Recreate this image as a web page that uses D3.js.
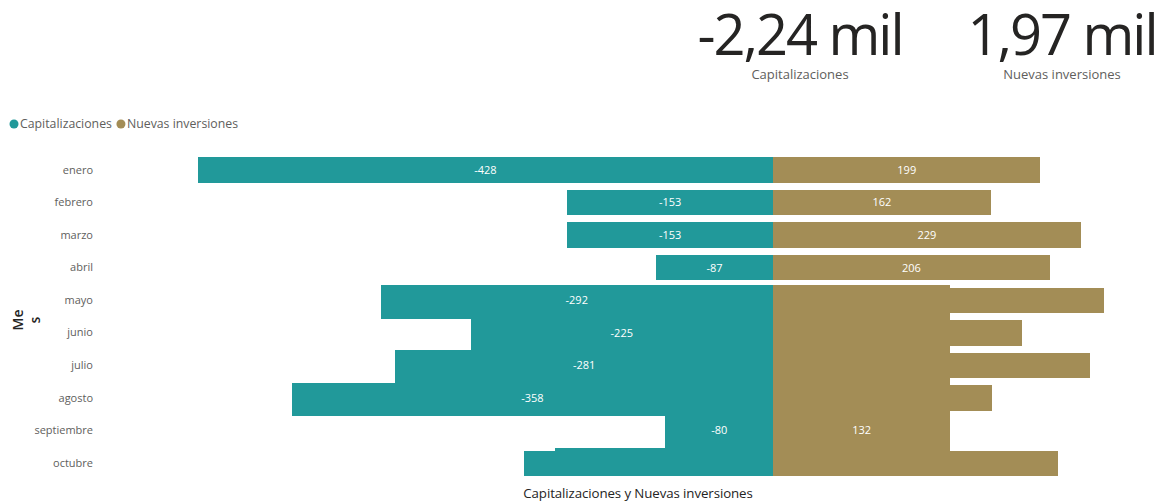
<!DOCTYPE html>
<html>
<head>
<meta charset="utf-8">
<script src="https://cdn.jsdelivr.net/npm/d3@7"></script>
<style>
  body { margin: 0; background: #fff; }
  svg text { font-family: "Open Sans", "Noto Sans", sans-serif; }
  rect { shape-rendering: crispEdges; }
</style>
</head>
<body>
<div id="chart"></div>
<script>
// datos
var meses = ["enero", "febrero", "marzo", "abril", "mayo", "junio", "julio", "agosto", "septiembre", "octubre"];
var capitalizaciones = [-428, -153, -153, -87, -292, -225, -281, -358, -80, -185];
var nuevasInversiones = [199, 162, 229, 206, 246, 185, 236, 163, 132, 212];
var series = ["Capitalizaciones", "Nuevas inversiones"];
var totales = ["-2,24 mil", "1,97 mil"];

// barras que quedaron a mitad de la animacion en la captura
var mesesEstirados = ["mayo", "junio", "julio", "agosto", "septiembre"];
var bloqueNuevas = { desde: "mayo", hasta: "octubre", valor: 132 };
var franjaCap = { desde: "septiembre", hasta: "octubre", valor: -162 };
var sinEtiqueta = ["octubre"];

var svgWidth = 1158;
var svgHeight = 504;
var colorCap = "#21999a";
var colorNue = "#a38d56";

var data = meses.map(function(m, i) {
  return { mes: m, cap: capitalizaciones[i], nue: nuevasInversiones[i] };
});

var svg = d3.select("#chart")
  .append("svg")
  .attr("width", svgWidth)
  .attr("height", svgHeight);

// scales
var maxAbs = d3.max(data, d => Math.max(-d.cap, d.nue));
var x = d3.scaleLinear()
  .domain([-maxAbs, maxAbs])
  .range([197.7, 1348.3]);

var y = d3.scaleBand()
  .domain(meses)
  .range([150.8, 482.4])
  .paddingInner(0.223)
  .paddingOuter(0.2);

var bw = y.bandwidth();
var shift = (y.step() - bw) * 0.3;

// y axis labels
var yAxis = d3.axisLeft(y).tickSize(0).tickPadding(0);
var yG = svg.append("g")
  .attr("transform", "translate(93,0)")
  .call(yAxis);
yG.select(".domain").remove();
yG.selectAll("text")
  .attr("fill", "#605e5c")
  .style("font-size", "11px");

// axis title "Mes" (wrapped)
var titleY = svg.append("text")
  .attr("transform", "translate(23,320) rotate(-90)")
  .attr("text-anchor", "middle")
  .attr("fill", "#252423")
  .style("font-size", "14px")
  .style("font-weight", "600");
titleY.append("tspan").attr("x", 0).attr("dy", 0).text("Me");
titleY.append("tspan").attr("x", 0).attr("dy", 17).text("s");

// capitalizaciones bars
svg.append("g").selectAll("rect")
  .data(data)
  .enter()
  .append("rect")
  .attr("x", d => x(d.cap))
  .attr("width", d => x(0) - x(d.cap))
  .attr("y", d => mesesEstirados.includes(d.mes) ? y(d.mes) - shift - 0.5 : y(d.mes))
  .attr("height", d => mesesEstirados.includes(d.mes) ? y.step() + 1 : bw)
  .attr("fill", colorCap);

// thin strip between septiembre and octubre
svg.append("rect")
  .attr("x", x(franjaCap.valor))
  .attr("width", x(0) - x(franjaCap.valor))
  .attr("y", y(franjaCap.desde) + y.step() - shift - 0.5)
  .attr("height", y(franjaCap.hasta) - (y(franjaCap.desde) + y.step() - shift) + 0.5)
  .attr("fill", colorCap);

// nuevas inversiones bars
svg.append("g").selectAll("rect")
  .data(data)
  .enter()
  .append("rect")
  .attr("x", x(0))
  .attr("width", d => x(d.nue) - x(0))
  .attr("y", d => y(d.mes))
  .attr("height", bw)
  .attr("fill", colorNue);

// bloque de nuevas inversiones
svg.append("rect")
  .attr("x", x(0))
  .attr("width", x(bloqueNuevas.valor) - x(0))
  .attr("y", y(bloqueNuevas.desde) - shift)
  .attr("height", y(bloqueNuevas.hasta) + bw - y(bloqueNuevas.desde) + shift)
  .attr("fill", colorNue);

// data labels
var labels = svg.append("g")
  .style("font-size", "11px")
  .attr("fill", "#ffffff")
  .attr("text-anchor", "middle");

labels.selectAll(".capLabel")
  .data(data.filter(d => !sinEtiqueta.includes(d.mes)))
  .enter()
  .append("text")
  .attr("x", d => (x(d.cap) + x(0)) / 2)
  .attr("y", d => y(d.mes) + bw / 2)
  .attr("dy", "0.35em")
  .text(d => d.cap);

labels.selectAll(".nueLabel")
  .data(data.filter(d => meses.indexOf(d.mes) < meses.indexOf(bloqueNuevas.desde)))
  .enter()
  .append("text")
  .attr("x", d => (x(d.nue) + x(0)) / 2)
  .attr("y", d => y(d.mes) + bw / 2)
  .attr("dy", "0.35em")
  .text(d => d.nue);

// label del bloque (septiembre)
var mesBloque = meses[nuevasInversiones.indexOf(bloqueNuevas.valor)];
labels.append("text")
  .attr("x", (x(bloqueNuevas.valor) + x(0)) / 2)
  .attr("y", y(mesBloque) + bw / 2)
  .attr("dy", "0.35em")
  .text(bloqueNuevas.valor);

// x axis title
svg.append("text")
  .attr("x", 638)
  .attr("y", 498)
  .attr("text-anchor", "middle")
  .attr("fill", "#252423")
  .style("font-size", "13.3px")
  .style("letter-spacing", "-0.1px")
  .text(series[0] + " y " + series[1]);

// legend
var legend = svg.append("g").attr("transform", "translate(14,124)");
var lx = 0;
series.forEach(function(s, i) {
  legend.append("circle")
    .attr("cx", lx)
    .attr("cy", 0)
    .attr("r", 4.5)
    .attr("fill", i === 0 ? colorCap : colorNue);
  var t = legend.append("text")
    .attr("x", lx + 6)
    .attr("y", 0)
    .attr("dy", "0.35em")
    .attr("fill", "#605e5c")
    .style("font-size", "12.3px")
    .text(s);
  lx += 6 + t.node().getComputedTextLength() + 9;
});

// KPI cards
var cardX = [800, 1062];
series.forEach(function(s, i) {
  svg.append("text")
    .attr("x", cardX[i])
    .attr("y", 55)
    .attr("text-anchor", "middle")
    .attr("fill", "#252423")
    .style("font-size", "56px")
    .style("letter-spacing", "-2px")
    .text(totales[i]);
  svg.append("text")
    .attr("x", cardX[i])
    .attr("y", 79)
    .attr("text-anchor", "middle")
    .attr("fill", "#605e5c")
    .style("font-size", "13px")
    .text(s);
});
</script>
</body>
</html>
